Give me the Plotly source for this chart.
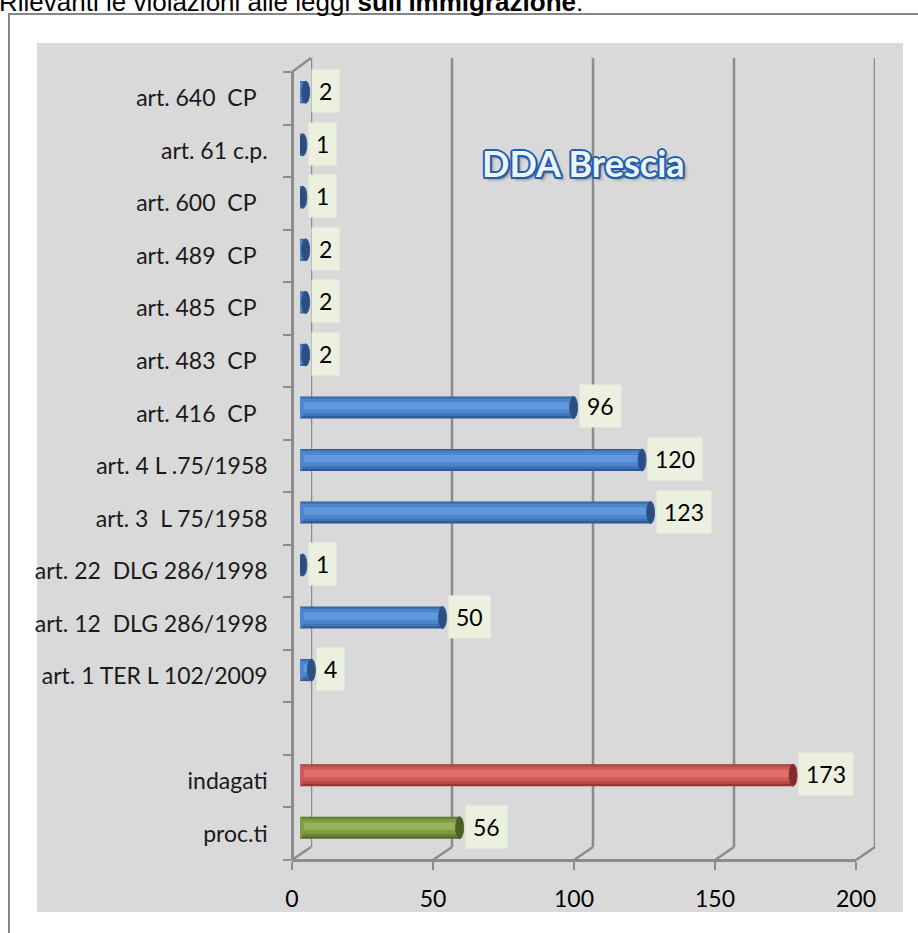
import plotly.graph_objects as go

W, H = 918, 933

# ---------------- data ----------------
categories = [
    "art. 640  CP  ",
    "art. 61 c.p.",
    "art. 600  CP  ",
    "art. 489  CP  ",
    "art. 485  CP  ",
    "art. 483  CP  ",
    "art. 416  CP  ",
    "art. 4 L .75/1958",
    "art. 3  L 75/1958",
    "art. 22  DLG 286/1998",
    "art. 12  DLG 286/1998",
    "art. 1 TER L 102/2009",
    "",
    "indagati",
    "proc.ti",
]
values = [2, 1, 1, 2, 2, 2, 96, 120, 123, 1, 50, 4, None, 173, 56]
x_tickvals = [0, 50, 100, 150, 200]
x_ticktext = ["0", "50", "100", "150", "200"]
title_plain = "Rilevanti le violazioni alle leggi "
title_bold = "sull'immigrazione"
chart_label = "DDA Brescia"

# ---------------- styles ----------------
# cylinder shading: (bottom edge, lower body, body, highlight, cap)
BLUE = ("#2F5A93", "#3F73B6", "#4D86CD", "#6298DD", "#2A4F80")
RED = ("#933734", "#B84845", "#CF5956", "#DE716E", "#7E2E2C")
GREEN = ("#52692A", "#6B8735", "#7E9C40", "#95B455", "#4A5F24")
special = {"indagati": RED, "proc.ti": GREEN}
GRID = "#8C8C8C"
FONT = "Lato"


def fx(px):
    return px / W


def fy(py):
    return 1 - py / H


n = len(categories)
idx = [n - 1 - i for i in range(n)]
labels = [c.replace(" ", "\u00a0") for c in categories]
pal = [special.get(c, BLUE) for c in categories]

BW = 0.42          # bar thickness (category units)
OFF = -0.095       # bars sit slightly "behind" (higher than) the front rows

fig = go.Figure()
layers = [(0, 0.0, 1.0), (1, 0.10, 0.86), (2, 0.22, 0.66), (3, 0.40, 0.34)]
for k, start, frac in layers:
    fig.add_trace(go.Bar(
        x=values, y=idx, orientation="h",
        marker=dict(color=[p[k] for p in pal], line=dict(width=0)),
        width=BW * frac, offset=OFF + BW * start,
        xaxis="x", yaxis="y", showlegend=False, hoverinfo="skip",
    ))

# invisible helpers so the extra axes exist
fig.add_trace(go.Scatter(x=[0, 200], y=[0, 0], xaxis="x2", yaxis="y",
                         mode="none", showlegend=False, hoverinfo="skip"))
fig.add_trace(go.Scatter(x=[0, 200], y=[0, 0], xaxis="x3", yaxis="y",
                         mode="none", showlegend=False, hoverinfo="skip"))

# back-wall / front geometry (pixels)
BACK_L, BACK_R, BACK_TOP, BACK_BOT = 311, 875, 58, 847
FRONT_L, FRONT_R, FRONT_TOP, FRONT_BOT = 292, 856, 72, 860

shapes = [
    # grey chart area
    dict(type="rect", xref="paper", yref="paper", x0=fx(37), x1=fx(903),
         y0=fy(912), y1=fy(43), fillcolor="#D9D9D9", line=dict(width=0),
         layer="below"),
    # outer frame
    dict(type="rect", xref="paper", yref="paper", x0=fx(9), x1=fx(940),
         y0=fy(960), y1=fy(14), line=dict(color="#868686", width=2),
         fillcolor="rgba(0,0,0,0)", layer="below"),
    # top-left diagonal of the 3D box
    dict(type="line", xref="paper", yref="paper", x0=fx(FRONT_L), y0=fy(FRONT_TOP),
         x1=fx(BACK_L), y1=fy(BACK_TOP), line=dict(color=GRID, width=2.5),
         layer="below"),
]
for v in x_tickvals:
    bx = BACK_L + (BACK_R - BACK_L) * v / 200.0
    fxp = FRONT_L + (FRONT_R - FRONT_L) * v / 200.0
    shapes.append(dict(type="line", xref="x2", yref="paper", x0=v, x1=v,
                       y0=fy(BACK_BOT), y1=fy(BACK_TOP),
                       line=dict(color=GRID, width=2.5), layer="below"))
    shapes.append(dict(type="line", xref="paper", yref="paper",
                       x0=fx(fxp), y0=fy(FRONT_BOT), x1=fx(bx), y1=fy(BACK_BOT),
                       line=dict(color=GRID, width=2.5), layer="below"))

# cylinder caps (ellipses at both ends of each bar)
for v, i, p in zip(values, idx, pal):
    if v is None:
        continue
    shapes.append(dict(type="circle", xref="x", yref="y", xsizemode="pixel",
                       xanchor=0, x0=-4, x1=4,
                       y0=i + OFF, y1=i + OFF + BW,
                       fillcolor=p[2], line=dict(width=0), layer="above"))
    shapes.append(dict(type="circle", xref="x", yref="y", xsizemode="pixel",
                       xanchor=v, x0=-4, x1=4,
                       y0=i + OFF, y1=i + OFF + BW,
                       fillcolor=p[4], line=dict(color=p[0], width=1),
                       layer="above"))

annotations = []
for c, v, i in zip(categories, values, idx):
    if v is None:
        continue
    annotations.append(dict(
        x=v, y=i, xref="x", yref="y", text=str(v), showarrow=False,
        xanchor="left", yanchor="middle", xshift=5, yshift=7,
        bgcolor="#EBF1DE", borderpad=7,
        font=dict(family=FONT, size=23, color="#000000"),
    ))

annotations.append(dict(
    x=fx(583), y=fy(163), xref="paper", yref="paper", text=chart_label,
    showarrow=False, xanchor="center", yanchor="middle",
    font=dict(family=FONT, size=36, color="#EEF3FA", weight="bold",
              shadow="-1.5px -1.5px 0 #1F5FAE, 1.5px -1.5px 0 #1F5FAE, "
                     "-1.5px 1.5px 0 #1F5FAE, 1.5px 1.5px 0 #1F5FAE, "
                     "0 2px 0 #1F5FAE, 0 -2px 0 #1F5FAE, 2px 0 0 #1F5FAE, "
                     "-2px 0 0 #1F5FAE, 3px 3px 3px rgba(0,0,0,0.35)"),
))

annotations.append(dict(
    x=fx(-3), y=fy(19), xref="paper", yref="paper",
    text=title_plain + "<b>" + title_bold + "</b>:",
    showarrow=False, xanchor="left", yanchor="bottom",
    font=dict(family="Liberation Sans", size=26, color="#000000"),
))

fig.update_layout(
    width=W, height=H,
    autosize=False,
    margin=dict(l=0, r=0, t=0, b=0, pad=0, autoexpand=False),
    paper_bgcolor="white", plot_bgcolor="rgba(0,0,0,0)",
    barmode="overlay",
    showlegend=False,
    xaxis=dict(domain=[fx(300), fx(870)], range=[0, 200], visible=False,
               anchor="y", fixedrange=True, automargin=False),
    xaxis2=dict(domain=[fx(BACK_L), fx(BACK_R)], range=[0, 200], visible=False,
                anchor="y", fixedrange=True, automargin=False),
    xaxis3=dict(domain=[fx(FRONT_L), fx(FRONT_R)], range=[0, 200],
                anchor="free", position=fy(FRONT_BOT),
                tickmode="array", tickvals=x_tickvals, ticktext=x_ticktext,
                ticks="outside", ticklen=8, tickwidth=2, tickcolor=GRID,
                showline=True, linecolor=GRID, linewidth=2.5,
                showgrid=False, zeroline=False, ticklabelstandoff=10,
                tickfont=dict(family=FONT, size=23, color="#000000"),
                fixedrange=True, automargin=False),
    yaxis=dict(domain=[fy(FRONT_BOT), fy(FRONT_TOP)], range=[-0.5, n - 0.5],
               anchor="free", position=fx(FRONT_L),
               tickmode="array", tickvals=idx, ticktext=labels,
               ticks="", showline=True, linecolor=GRID, linewidth=2.5,
               minor=dict(tickmode="array", tickvals=[k - 0.5 for k in range(n + 1)],
                          ticks="outside", ticklen=8, tickwidth=2, tickcolor=GRID,
                          showgrid=False),
               showgrid=False, zeroline=False, ticklabelstandoff=19,
               tickfont=dict(family=FONT, size=23, color="#1A1A1A"),
               fixedrange=True, automargin=False),
    shapes=shapes,
    annotations=annotations,
)

fig.write_html("out.html", config={"displayModeBar": False},
               post_script="document.body.style.margin='0';"
                           "document.body.style.overflow='hidden';")
